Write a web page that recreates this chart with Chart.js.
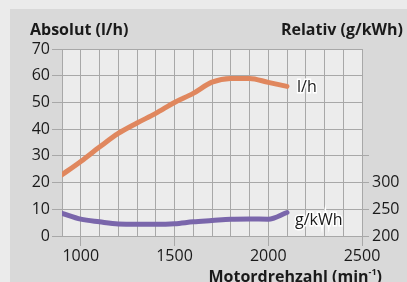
<!DOCTYPE html>
<html>
<head>
<meta charset="utf-8">
<script src="https://cdn.jsdelivr.net/npm/chart.js@4"></script>
<style>
  html, body { margin: 0; padding: 0; background: #ebebeb; }
  #wrap { position: relative; width: 407px; height: 282px; overflow: hidden; }
  canvas { display: block; }
</style>
</head>
<body>
<div id="wrap"><canvas id="chart" width="407" height="282"></canvas></div>
<script>
// Drehzahl (min-1)
const rpm      = [900, 1000, 1100, 1200, 1300, 1400, 1500, 1600, 1700, 1800, 1900, 2000, 2100];
// Absoluter Verbrauch (l/h), linke Achse
const absolut  = [22.9, 27.9, 33.3, 38.4, 42.3, 45.9, 50.0, 53.4, 57.6, 59.0, 59.0, 57.5, 56.0];
// Relativer Verbrauch (g/kWh), rechte Achse
const relativ  = [242.5, 231.5, 226.5, 222.5, 222, 222, 223, 226.5, 229, 231.5, 232, 231.5, 244];

const leftTicks  = [0, 10, 20, 30, 40, 50, 60, 70];
const rightTicks = [200, 250, 300];
const xTicks     = [1000, 1500, 2000, 2500];

const FONT = "'Open Sans', sans-serif";
const ORANGE = '#e0875e';
const PURPLE = '#7a66ab';
const GRID = '#a8a8a8';

const toPoints = (xs, ys) => xs.map((x, i) => ({ x, y: ys[i] }));

// Hintergrund, Achsentitel und Linienbeschriftungen
const decor = {
  id: 'decor',
  beforeDraw(chart) {
    const { ctx, chartArea: a } = chart;
    ctx.save();
    ctx.fillStyle = '#ebebeb';
    ctx.fillRect(0, 0, chart.width, chart.height);
    ctx.fillStyle = '#d9d9d9';
    ctx.fillRect(10, 9, chart.width - 10, chart.height - 9);
    ctx.fillStyle = '#ececec';
    ctx.fillRect(a.left, a.top, a.right - a.left, a.bottom - a.top);
    ctx.restore();
  },
  afterDatasetsDraw(chart) {
    const { ctx, scales } = chart;
    ctx.save();
    ctx.fillStyle = '#1a1a1a';
    ctx.textBaseline = 'alphabetic';

    ctx.font = `bold 16px ${FONT}`;
    ctx.textAlign = 'left';
    ctx.fillText('Absolut (l/h)', 30, 35);
    ctx.textAlign = 'right';
    ctx.fillText('Relativ (g/kWh)', 403, 35);

    // x-Achsentitel mit hochgestelltem -1
    ctx.textAlign = 'left';
    const main = 'Motordrehzahl (min';
    const sup = '-1';
    ctx.font = `bold 16px ${FONT}`;
    const wMain = ctx.measureText(main).width;
    const wClose = ctx.measureText(')').width;
    ctx.font = `bold 9px ${FONT}`;
    const wSup = ctx.measureText(sup).width;
    const right = 382;
    const x0 = right - wMain - wSup - wClose;
    ctx.font = `bold 16px ${FONT}`;
    ctx.fillText(main, x0, 282);
    ctx.font = `bold 9px ${FONT}`;
    ctx.fillText(sup, x0 + wMain, 275);
    ctx.font = `bold 16px ${FONT}`;
    ctx.fillText(')', x0 + wMain + wSup, 282);

    // Linienbeschriftungen
    ctx.font = `16px ${FONT}`;
    ctx.lineWidth = 3;
    ctx.strokeStyle = '#ffffff';
    const lastX = scales.x.getPixelForValue(rpm[rpm.length - 1]);
    const yAbs = scales.y.getPixelForValue(absolut[absolut.length - 1]);
    const yRel = scales.y1.getPixelForValue(relativ[relativ.length - 1]);
    ctx.strokeText('l/h', lastX + 10, yAbs + 6);
    ctx.fillText('l/h', lastX + 10, yAbs + 6);
    ctx.strokeText('g/kWh', lastX + 8, yRel + 13);
    ctx.fillText('g/kWh', lastX + 8, yRel + 13);
    ctx.restore();
  }
};

new Chart(document.getElementById('chart'), {
  type: 'line',
  data: {
    datasets: [
      {
        label: 'l/h',
        data: toPoints(rpm, absolut),
        yAxisID: 'y',
        borderColor: ORANGE,
        borderWidth: 5,
        pointRadius: 0,
        tension: 0.4,
        cubicInterpolationMode: 'monotone',
        borderCapStyle: 'round',
      },
      {
        label: 'g/kWh',
        data: toPoints(rpm, relativ),
        yAxisID: 'y1',
        borderColor: PURPLE,
        borderWidth: 5,
        pointRadius: 0,
        tension: 0.4,
        cubicInterpolationMode: 'monotone',
        borderCapStyle: 'round',
      },
    ],
  },
  options: {
    responsive: false,
    animation: false,
    layout: { padding: { top: 49, left: 0, right: 0, bottom: 0 } },
    plugins: { legend: { display: false }, tooltip: { enabled: false } },
    scales: {
      x: {
        type: 'linear',
        min: 900,
        max: 2500,
        afterFit: s => { s.height = 46; },
        border: { color: GRID, width: 1 },
        grid: {
          color: GRID,
          lineWidth: 1,
          tickLength: 10,
          tickColor: c => xTicks.includes(c.tick.value) ? GRID : 'rgba(0,0,0,0)',
        },
        ticks: {
          stepSize: 100,
          maxTicksLimit: 100,
          autoSkip: false,
          maxRotation: 0,
          padding: 1,
          color: '#1a1a1a',
          font: { family: FONT, size: 16 },
          callback: v => xTicks.includes(v) ? String(v) : '',
        },
      },
      y: {
        position: 'left',
        min: 0,
        max: 70,
        afterFit: s => { s.width = 62; },
        border: { color: GRID, width: 1 },
        grid: { color: GRID, lineWidth: 1, tickLength: 10 },
        ticks: {
          stepSize: 10,
          padding: 2,
          color: '#1a1a1a',
          font: { family: FONT, size: 16 },
          callback: v => leftTicks.includes(v) ? String(v) : '',
        },
      },
      y1: {
        position: 'right',
        min: 200,
        max: 550,
        afterFit: s => { s.width = 45; },
        border: { color: GRID, width: 1 },
        grid: {
          drawOnChartArea: false,
          tickLength: 7,
          color: c => c.tick && c.tick.value <= 350 ? GRID : 'rgba(0,0,0,0)',
        },
        ticks: {
          stepSize: 50,
          padding: 3,
          color: '#1a1a1a',
          font: { family: FONT, size: 16 },
          callback: v => rightTicks.includes(v) ? String(v) : '',
        },
      },
    },
  },
  plugins: [decor],
});
</script>
</body>
</html>
